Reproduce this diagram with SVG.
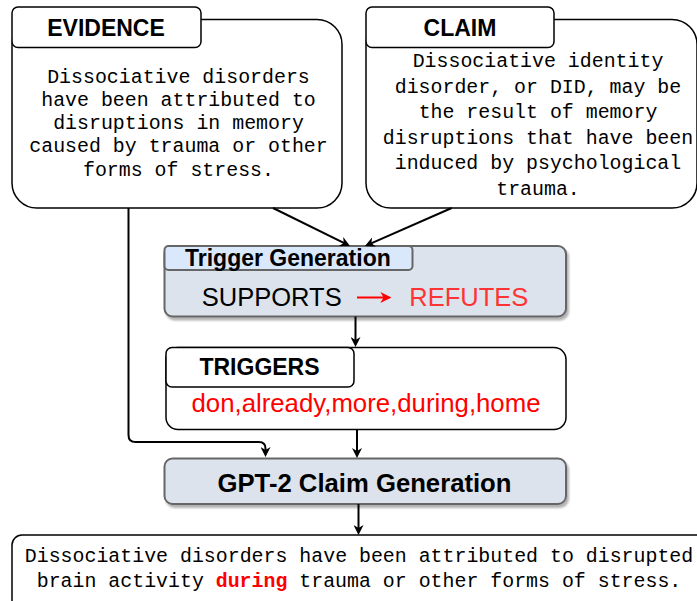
<svg xmlns="http://www.w3.org/2000/svg" width="697" height="601" viewBox="0 0 697 601">
<defs>
<marker id="arr" viewBox="0 0 10 10" refX="7" refY="5" markerWidth="10" markerHeight="10" markerUnits="userSpaceOnUse" orient="auto">
<path d="M0,0 L10,5 L0,10 L3,5 Z" fill="#000"/>
</marker>
<marker id="arrRed" viewBox="0 0 10 10" refX="7" refY="5" markerWidth="11" markerHeight="11" markerUnits="userSpaceOnUse" orient="auto">
<path d="M0,0 L10,5 L0,10 L3,5 Z" fill="#ff0000"/>
</marker>
<filter id="shadow" x="-5%" y="-10%" width="115%" height="130%">
<feDropShadow dx="2" dy="3" stdDeviation="1.2" flood-color="#000" flood-opacity="0.3"/>
</filter>
</defs>
<style>
.box{fill:#fff;stroke:#000;stroke-width:1.5}
.proc{fill:#dde3ec;stroke:#666;stroke-width:2}
.ptab{fill:#dae8fc;stroke:#666;stroke-width:2}
.hdr{font-family:"Liberation Sans",Arial,sans-serif;font-weight:bold;font-size:23px;fill:#000}
.mono{font-family:"Liberation Mono","Courier New",monospace;font-size:19.9px;fill:#000;text-anchor:middle}
.sans{font-family:"Liberation Sans",Arial,sans-serif;font-size:25.5px}
.conn{fill:none;stroke:#000;stroke-width:2}
</style>
<rect width="697" height="601" fill="#fff"/>

<g id="evidence">
<rect class="box" x="12" y="19.5" width="330" height="188.5" rx="25"/>
<rect class="box" x="12" y="7" width="189" height="40.5" rx="6"/>
<text class="hdr" x="106" y="36" text-anchor="middle">EVIDENCE</text>
<text class="mono" x="178.5" y="82.5">Dissociative disorders</text>
<text class="mono" x="178.5" y="105.8">have been attributed to</text>
<text class="mono" x="178.5" y="129.1">disruptions in memory</text>
<text class="mono" x="178.5" y="152.4">caused by trauma or other</text>
<text class="mono" x="178.5" y="175.7">forms of stress.</text>
</g>

<g id="claim">
<rect class="box" x="366" y="19.5" width="331" height="188.5" rx="25"/>
<rect class="box" x="366" y="7" width="188" height="40.5" rx="6"/>
<text class="hdr" x="460" y="36" text-anchor="middle">CLAIM</text>
<text class="mono" x="538" y="67">Dissociative identity</text>
<text class="mono" x="538" y="92.5">disorder, or DID, may be</text>
<text class="mono" x="538" y="118">the result of memory</text>
<text class="mono" x="538" y="143.5">disruptions that have been</text>
<text class="mono" x="538" y="169">induced by psychological</text>
<text class="mono" x="538" y="194.5">trauma.</text>
</g>

<g id="trigger-generation">
<rect class="proc" x="164.5" y="246" width="401.5" height="70.5" rx="8" filter="url(#shadow)"/>
<rect class="ptab" x="164.5" y="246" width="248" height="24" rx="4"/>
<text class="hdr" x="185" y="265.5">Trigger Generation</text>
<text class="sans" x="201.7" y="306" fill="#000" textLength="140" lengthAdjust="spacingAndGlyphs">SUPPORTS</text>
<line x1="357" y1="297.5" x2="388" y2="297.5" stroke="#ff0000" stroke-width="2" marker-end="url(#arrRed)"/>
<text class="sans" x="409.3" y="306" fill="#ff3333" textLength="119" lengthAdjust="spacingAndGlyphs">REFUTES</text>
</g>

<g id="triggers">
<rect class="box" x="166" y="347.5" width="400" height="82" rx="12"/>
<rect class="box" x="166" y="347.5" width="188" height="39.5" rx="6"/>
<text class="hdr" x="259.5" y="375" text-anchor="middle">TRIGGERS</text>
<text class="sans" x="366" y="411.7" fill="#ff0000" text-anchor="middle" textLength="349" lengthAdjust="spacingAndGlyphs">don,already,more,during,home</text>
</g>

<g id="gpt2">
<rect class="proc" x="164.5" y="458.5" width="401.5" height="45.5" rx="8" filter="url(#shadow)"/>
<text class="hdr" x="364.5" y="491.7" text-anchor="middle" style="font-size:25px" textLength="294" lengthAdjust="spacingAndGlyphs">GPT-2 Claim Generation</text>
</g>

<g id="output">
<rect class="box" x="12" y="535" width="700" height="80" rx="10"/>
<text class="mono" x="359" y="561.7">Dissociative disorders have been attributed to disrupted</text>
<text class="mono" x="359" y="586.5">brain activity <tspan font-weight="bold" fill="#ff0000">during</tspan> trauma or other forms of stress.</text>
</g>

<g id="connectors">
<line class="conn" x1="273" y1="208" x2="347.3" y2="244.7" marker-end="url(#arr)"/>
<line class="conn" x1="451.7" y1="208" x2="367.7" y2="244.8" marker-end="url(#arr)"/>
<line class="conn" x1="355.5" y1="316.5" x2="355.5" y2="344" marker-end="url(#arr)"/>
<line class="conn" x1="357" y1="429.5" x2="357" y2="455" marker-end="url(#arr)"/>
<path class="conn" d="M128.5,208 L128.5,435 Q128.5,442 135.5,442 L259,442 Q265.5,442 265.5,448.5 L265.5,454" marker-end="url(#arr)"/>
<line class="conn" x1="358.5" y1="504" x2="358.5" y2="532" marker-end="url(#arr)"/>
</g>
</svg>
